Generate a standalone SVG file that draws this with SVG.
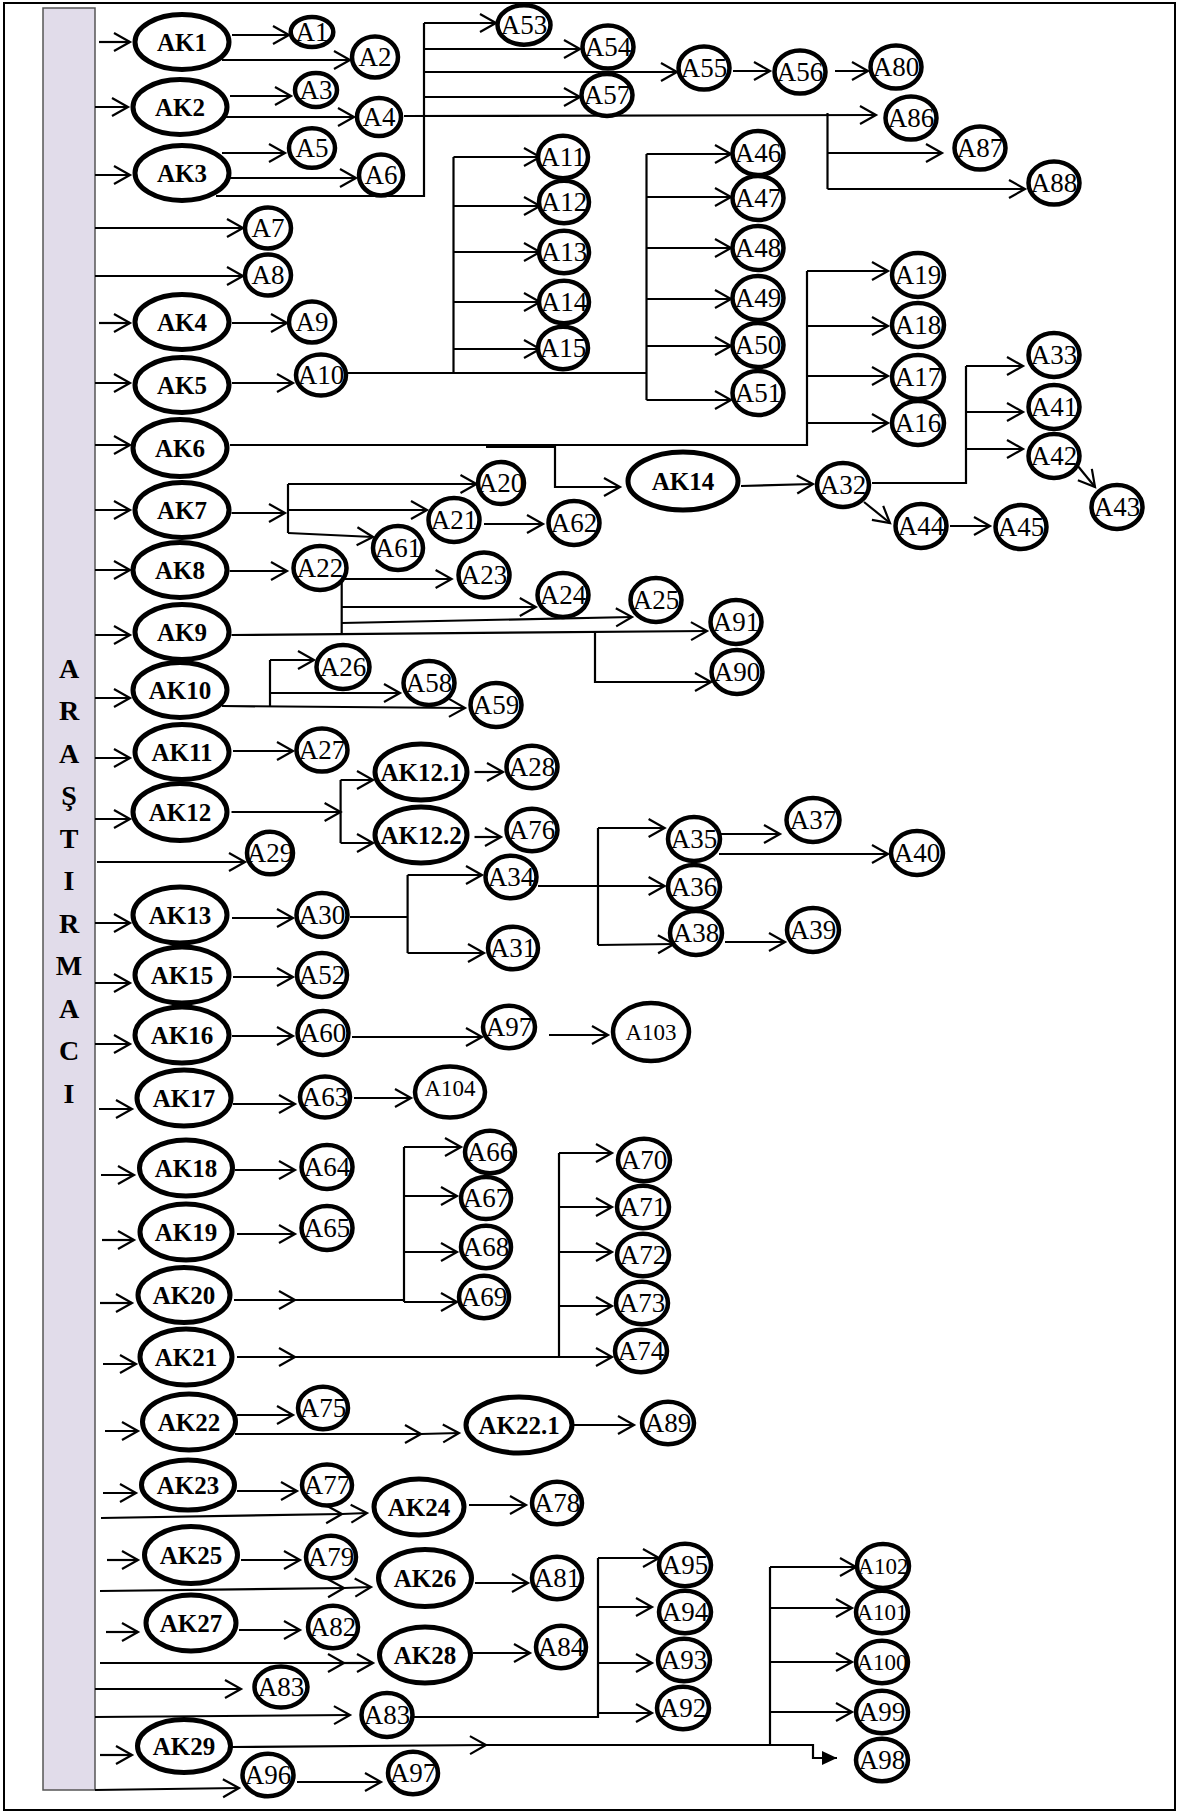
<svg xmlns="http://www.w3.org/2000/svg" width="1188" height="1820" viewBox="0 0 1188 1820">
<style>
.c{fill:none;stroke:#000;stroke-width:2.2}
.n{fill:#fff;stroke:#000;stroke-width:4.5}
.nk{fill:#fff;stroke:#000;stroke-width:5}
.t{font-family:"Liberation Serif","Times New Roman",serif;font-size:27px;text-anchor:middle}
.s{font-size:23px}
.k{font-family:"Liberation Serif","Times New Roman",serif;font-size:25px;font-weight:bold;text-anchor:middle}
.bl{font-family:"Liberation Serif","Times New Roman",serif;font-size:28px;font-weight:bold;text-anchor:middle}
</style>
<defs>
<marker id="ar" markerUnits="userSpaceOnUse" markerWidth="20" markerHeight="20" viewBox="0 0 20 20" refX="17" refY="9" orient="auto" overflow="visible"><path d="M1,0 L17,9 L1,18" fill="none" stroke="#000" stroke-width="2.2"/></marker>
<marker id="af" markerUnits="userSpaceOnUse" markerWidth="16" markerHeight="16" viewBox="0 0 16 16" refX="15" refY="8" orient="auto" overflow="visible"><path d="M0,1 L15,8 L0,15 Z" fill="#000"/></marker>
</defs>
<rect x="4" y="3" width="1171" height="1807" fill="#fff" stroke="#000" stroke-width="2"/>
<g id="ARASTIRMACI">
<rect x="43" y="8" width="52" height="1782" fill="#e1dcea" stroke="#555" stroke-width="1.5"/>
<text class="bl" x="69" y="677.5">A</text>
<text class="bl" x="69" y="719.5">R</text>
<text class="bl" x="69" y="762.5">A</text>
<text class="bl" x="69" y="804.5">Ş</text>
<text class="bl" x="69" y="847.5">T</text>
<text class="bl" x="69" y="889.5">I</text>
<text class="bl" x="69" y="932.5">R</text>
<text class="bl" x="69" y="974.5">M</text>
<text class="bl" x="69" y="1017.5">A</text>
<text class="bl" x="69" y="1059.5">C</text>
<text class="bl" x="69" y="1102.5">I</text>
</g>
<g id="connectors">
<g class="c" marker-end="url(#ar)">
<path d="M99,42H130"/>
<path d="M95,107H128"/>
<path d="M95,175H130"/>
<path d="M95,228H243"/>
<path d="M95,276H243"/>
<path d="M99,323H130"/>
<path d="M95,383H130"/>
<path d="M95,445H130"/>
<path d="M95,510H130"/>
<path d="M95,570H130"/>
<path d="M95,635H130"/>
<path d="M95,698H130"/>
<path d="M95,758H130"/>
<path d="M95,819H130"/>
<path d="M97,862H245"/>
<path d="M95,923H130"/>
<path d="M95,983H130"/>
<path d="M95,1044H130"/>
<path d="M99,1109H132"/>
<path d="M101,1175H134"/>
<path d="M102,1240H134"/>
<path d="M100,1303H132"/>
<path d="M103,1364H136"/>
<path d="M105,1431H138"/>
<path d="M103,1493H136"/>
<path d="M101,1518L342,1514"/>
<path d="M342,1514L367,1513"/>
<path d="M107,1560H138"/>
<path d="M100,1591L344,1588"/>
<path d="M344,1588L371,1587"/>
<path d="M106,1632H138"/>
<path d="M100,1663H344"/>
<path d="M344,1663H373"/>
<path d="M95,1689H241"/>
<path d="M95,1717L350,1715"/>
<path d="M100,1755H132"/>
<path d="M95,1790L239,1788"/>
<path d="M232,35H289"/>
<path d="M222,60H350"/>
<path d="M230,96H291"/>
<path d="M226,117H354"/>
<path d="M222,153H285"/>
<path d="M230,178H356"/>
<path d="M424,23H496"/>
<path d="M424,49H580"/>
<path d="M424,72H677"/>
<path d="M424,97H580"/>
<path d="M733,71H770"/>
<path d="M835,71H868"/>
<path d="M404,116L876,115"/>
<path d="M827.5,153H942"/>
<path d="M827.5,189H1025"/>
<path d="M232,323H287"/>
<path d="M232,383H293"/>
<path d="M453.5,157H540"/>
<path d="M453.5,206H540"/>
<path d="M453.5,252H540"/>
<path d="M453.5,302H540"/>
<path d="M453.5,349H540"/>
<path d="M646.5,154H731"/>
<path d="M646.5,197H731"/>
<path d="M646.5,248H731"/>
<path d="M646.5,299H731"/>
<path d="M646.5,346H731"/>
<path d="M646.5,400H731"/>
<path d="M807,271H888"/>
<path d="M807,326H888"/>
<path d="M807,376H888"/>
<path d="M807,423H888"/>
<path d="M486,447H555V487H620"/>
<path d="M741,486L813,484"/>
<path d="M966,366H1023"/>
<path d="M966,412H1023"/>
<path d="M966,449H1023"/>
<path d="M1077,465L1095,487"/>
<path d="M864,502L890,523"/>
<path d="M950,526H990"/>
<path d="M231.5,513H285"/>
<path d="M288,484H476.5"/>
<path d="M288,510H427"/>
<path d="M288,533L373,537"/>
<path d="M484,524H543"/>
<path d="M229.6,571H287"/>
<path d="M344,579H451.6"/>
<path d="M341.7,607H535.8"/>
<path d="M341.7,623L632,617"/>
<path d="M231.5,635L707,631"/>
<path d="M595,632V682H711"/>
<path d="M222,706L465,708"/>
<path d="M270,660H314"/>
<path d="M270,693H400"/>
<path d="M233,751H293"/>
<path d="M231.5,812H340.6"/>
<path d="M340.6,780H373"/>
<path d="M340.6,843H373"/>
<path d="M474.5,772H503"/>
<path d="M474.5,837H501"/>
<path d="M232,918H293"/>
<path d="M407.6,875H482"/>
<path d="M407.6,953H484"/>
<path d="M538,886H664.6"/>
<path d="M598,828H664.6"/>
<path d="M598,945L674,944"/>
<path d="M721,834H780"/>
<path d="M719,854H888"/>
<path d="M725,942H785"/>
<path d="M233,977H293"/>
<path d="M232,1036H293"/>
<path d="M352,1037H482"/>
<path d="M549,1035H608"/>
<path d="M233,1104H295"/>
<path d="M354,1098H411"/>
<path d="M235,1170H295"/>
<path d="M237,1234H295"/>
<path d="M234,1300H295"/>
<path d="M404,1147H461"/>
<path d="M404,1196H457"/>
<path d="M404,1252H457"/>
<path d="M404,1302H457"/>
<path d="M237,1357H295"/>
<path d="M559,1153H612"/>
<path d="M559,1207H612"/>
<path d="M559,1252H612"/>
<path d="M559,1306H612"/>
<path d="M559,1357H612"/>
<path d="M237,1415H293"/>
<path d="M235,1434H421"/>
<path d="M421,1434L459,1433"/>
<path d="M574,1425H634"/>
<path d="M237,1491H297"/>
<path d="M469,1505H526"/>
<path d="M241,1560H300"/>
<path d="M475,1583H528"/>
<path d="M239,1630H300"/>
<path d="M473,1653H530"/>
<path d="M598,1558H659"/>
<path d="M598,1607H652"/>
<path d="M598,1663H652"/>
<path d="M598,1713H652"/>
<path d="M231.5,1747L486,1745"/>
<path d="M770,1567H856"/>
<path d="M770,1608H852"/>
<path d="M770,1662H852"/>
<path d="M770,1712H852"/>
<path d="M297,1782H381"/>
</g>
<g class="c">
<path d="M216,196H424V23"/>
<path d="M827.5,113V189"/>
<path d="M347,373H646.5"/>
<path d="M453.5,157V373"/>
<path d="M646.5,154V400"/>
<path d="M230,445H807V271"/>
<path d="M872,483H966V366"/>
<path d="M288,484V533"/>
<path d="M341.7,579V635"/>
<path d="M270,660V706"/>
<path d="M340.6,780V843"/>
<path d="M350,917H407.6"/>
<path d="M407.6,875V953"/>
<path d="M598,828V945"/>
<path d="M295,1300H404"/>
<path d="M404,1147V1302"/>
<path d="M295,1357H559"/>
<path d="M559,1153V1357"/>
<path d="M414,1717H598V1558"/>
<path d="M770,1567V1745"/>
</g>
<path class="c" d="M486,1745H813V1758H837" marker-end="url(#af)"/>
</g>
<g id="AK1"><ellipse class="nk" cx="182" cy="42" rx="47" ry="27.5"/><text class="k" x="182" y="50.5">AK1</text></g>
<g id="AK2"><ellipse class="nk" cx="180" cy="107" rx="47" ry="27.5"/><text class="k" x="180" y="115.5">AK2</text></g>
<g id="AK3"><ellipse class="nk" cx="182" cy="173" rx="47" ry="27.5"/><text class="k" x="182" y="181.5">AK3</text></g>
<g id="AK4"><ellipse class="nk" cx="182" cy="322" rx="47" ry="27.5"/><text class="k" x="182" y="330.5">AK4</text></g>
<g id="AK5"><ellipse class="nk" cx="182" cy="385" rx="47" ry="27.5"/><text class="k" x="182" y="393.5">AK5</text></g>
<g id="AK6"><ellipse class="nk" cx="180" cy="448" rx="47" ry="28.5"/><text class="k" x="180" y="456.5">AK6</text></g>
<g id="AK7"><ellipse class="nk" cx="182" cy="510" rx="47" ry="27.5"/><text class="k" x="182" y="518.5">AK7</text></g>
<g id="AK8"><ellipse class="nk" cx="180" cy="570" rx="47" ry="27.5"/><text class="k" x="180" y="578.5">AK8</text></g>
<g id="AK9"><ellipse class="nk" cx="182" cy="632" rx="47" ry="27.5"/><text class="k" x="182" y="640.5">AK9</text></g>
<g id="AK10"><ellipse class="nk" cx="180" cy="690" rx="47" ry="27.5"/><text class="k" x="180" y="698.5">AK10</text></g>
<g id="AK11"><ellipse class="nk" cx="182" cy="752" rx="47" ry="27.5"/><text class="k" x="182" y="760.5">AK11</text></g>
<g id="AK12"><ellipse class="nk" cx="180" cy="812" rx="47" ry="28.5"/><text class="k" x="180" y="820.5">AK12</text></g>
<g id="AK13"><ellipse class="nk" cx="180" cy="915" rx="47" ry="28"/><text class="k" x="180" y="923.5">AK13</text></g>
<g id="AK15"><ellipse class="nk" cx="182" cy="975" rx="47" ry="28"/><text class="k" x="182" y="983.5">AK15</text></g>
<g id="AK16"><ellipse class="nk" cx="182" cy="1035" rx="47" ry="28"/><text class="k" x="182" y="1043.5">AK16</text></g>
<g id="AK17"><ellipse class="nk" cx="184" cy="1098" rx="47" ry="28"/><text class="k" x="184" y="1106.5">AK17</text></g>
<g id="AK18"><ellipse class="nk" cx="186" cy="1168" rx="46.5" ry="28"/><text class="k" x="186" y="1176.5">AK18</text></g>
<g id="AK19"><ellipse class="nk" cx="186" cy="1232" rx="46" ry="28"/><text class="k" x="186" y="1240.5">AK19</text></g>
<g id="AK20"><ellipse class="nk" cx="184" cy="1295" rx="46" ry="27.5"/><text class="k" x="184" y="1303.5">AK20</text></g>
<g id="AK21"><ellipse class="nk" cx="186" cy="1357" rx="46" ry="28"/><text class="k" x="186" y="1365.5">AK21</text></g>
<g id="AK22"><ellipse class="nk" cx="189" cy="1422" rx="46.5" ry="28"/><text class="k" x="189" y="1430.5">AK22</text></g>
<g id="AK23"><ellipse class="nk" cx="188" cy="1485" rx="46.5" ry="25"/><text class="k" x="188" y="1493.5">AK23</text></g>
<g id="AK25"><ellipse class="nk" cx="191" cy="1555" rx="46.5" ry="28.5"/><text class="k" x="191" y="1563.5">AK25</text></g>
<g id="AK27"><ellipse class="nk" cx="191" cy="1623" rx="45" ry="28"/><text class="k" x="191" y="1631.5">AK27</text></g>
<g id="AK29"><ellipse class="nk" cx="184" cy="1746" rx="46.5" ry="26.5"/><text class="k" x="184" y="1754.5">AK29</text></g>
<g id="AK24"><ellipse class="nk" cx="419" cy="1507" rx="45" ry="28"/><text class="k" x="419" y="1515.5">AK24</text></g>
<g id="AK26"><ellipse class="nk" cx="425" cy="1578" rx="46.5" ry="28.5"/><text class="k" x="425" y="1586.5">AK26</text></g>
<g id="AK28"><ellipse class="nk" cx="425" cy="1655" rx="45.5" ry="28"/><text class="k" x="425" y="1663.5">AK28</text></g>
<g id="AK12.1"><ellipse class="nk" cx="421" cy="772" rx="46" ry="28"/><text class="k" x="421" y="780.5">AK12.1</text></g>
<g id="AK12.2"><ellipse class="nk" cx="421" cy="835" rx="46" ry="28"/><text class="k" x="421" y="843.5">AK12.2</text></g>
<g id="AK14"><ellipse class="nk" cx="683" cy="481" rx="55" ry="29"/><text class="k" x="683" y="489.5">AK14</text></g>
<g id="AK22.1"><ellipse class="nk" cx="519" cy="1425" rx="53" ry="28"/><text class="k" x="519" y="1433.5">AK22.1</text></g>
<g id="A1"><ellipse class="n" cx="312" cy="32" rx="21.3" ry="15"/><text class="t" x="312" y="41">A1</text></g>
<g id="A2"><ellipse class="n" cx="375" cy="57" rx="23" ry="20.5"/><text class="t" x="375" y="66">A2</text></g>
<g id="A3"><ellipse class="n" cx="316" cy="90" rx="21" ry="17"/><text class="t" x="316" y="99">A3</text></g>
<g id="A4"><ellipse class="n" cx="379" cy="117" rx="22" ry="19"/><text class="t" x="379" y="126">A4</text></g>
<g id="A5"><ellipse class="n" cx="312" cy="148" rx="23" ry="19.7"/><text class="t" x="312" y="157">A5</text></g>
<g id="A6"><ellipse class="n" cx="381" cy="175" rx="22" ry="20.5"/><text class="t" x="381" y="184">A6</text></g>
<g id="A7"><ellipse class="n" cx="268" cy="228" rx="23" ry="20.5"/><text class="t" x="268" y="237">A7</text></g>
<g id="A8"><ellipse class="n" cx="268" cy="275" rx="23" ry="20.5"/><text class="t" x="268" y="284">A8</text></g>
<g id="A9"><ellipse class="n" cx="312" cy="322" rx="23" ry="20.5"/><text class="t" x="312" y="331">A9</text></g>
<g id="A10"><ellipse class="n" cx="321" cy="375" rx="25" ry="20.5"/><text class="t" x="321" y="384">A10</text></g>
<g id="A53"><ellipse class="n" cx="524" cy="25" rx="26.5" ry="19.7"/><text class="t" x="524" y="34">A53</text></g>
<g id="A54"><ellipse class="n" cx="608" cy="47" rx="25.5" ry="21.5"/><text class="t" x="608" y="56">A54</text></g>
<g id="A55"><ellipse class="n" cx="704" cy="68" rx="25.5" ry="21.5"/><text class="t" x="704" y="77">A55</text></g>
<g id="A56"><ellipse class="n" cx="800" cy="72" rx="25.5" ry="21.5"/><text class="t" x="800" y="81">A56</text></g>
<g id="A80"><ellipse class="n" cx="896" cy="67" rx="25.5" ry="21.5"/><text class="t" x="896" y="76">A80</text></g>
<g id="A57"><ellipse class="n" cx="607" cy="95" rx="25.5" ry="21"/><text class="t" x="607" y="104">A57</text></g>
<g id="A86"><ellipse class="n" cx="911" cy="118" rx="25.5" ry="21.5"/><text class="t" x="911" y="127">A86</text></g>
<g id="A87"><ellipse class="n" cx="980" cy="148" rx="25.5" ry="21.5"/><text class="t" x="980" y="157">A87</text></g>
<g id="A88"><ellipse class="n" cx="1054" cy="183" rx="25.5" ry="21.5"/><text class="t" x="1054" y="192">A88</text></g>
<g id="A11"><ellipse class="n" cx="563" cy="157" rx="25" ry="21.3"/><text class="t" x="563" y="166">A11</text></g>
<g id="A12"><ellipse class="n" cx="564" cy="202" rx="25" ry="21.3"/><text class="t" x="564" y="211">A12</text></g>
<g id="A13"><ellipse class="n" cx="564" cy="252" rx="25" ry="21.3"/><text class="t" x="564" y="261">A13</text></g>
<g id="A14"><ellipse class="n" cx="564" cy="302" rx="25" ry="21.3"/><text class="t" x="564" y="311">A14</text></g>
<g id="A15"><ellipse class="n" cx="563" cy="348" rx="25" ry="21.3"/><text class="t" x="563" y="357">A15</text></g>
<g id="A46"><ellipse class="n" cx="758" cy="153" rx="25.5" ry="22"/><text class="t" x="758" y="162">A46</text></g>
<g id="A47"><ellipse class="n" cx="758" cy="198" rx="25.5" ry="22"/><text class="t" x="758" y="207">A47</text></g>
<g id="A48"><ellipse class="n" cx="758" cy="248" rx="25.5" ry="22"/><text class="t" x="758" y="257">A48</text></g>
<g id="A49"><ellipse class="n" cx="758" cy="298" rx="25.5" ry="22"/><text class="t" x="758" y="307">A49</text></g>
<g id="A50"><ellipse class="n" cx="758" cy="345" rx="25.5" ry="22"/><text class="t" x="758" y="354">A50</text></g>
<g id="A51"><ellipse class="n" cx="758" cy="393" rx="25.5" ry="22"/><text class="t" x="758" y="402">A51</text></g>
<g id="A19"><ellipse class="n" cx="918" cy="275" rx="26" ry="22"/><text class="t" x="918" y="284">A19</text></g>
<g id="A18"><ellipse class="n" cx="918" cy="325" rx="26" ry="22"/><text class="t" x="918" y="334">A18</text></g>
<g id="A17"><ellipse class="n" cx="918" cy="377" rx="26" ry="22"/><text class="t" x="918" y="386">A17</text></g>
<g id="A16"><ellipse class="n" cx="918" cy="423" rx="26" ry="22"/><text class="t" x="918" y="432">A16</text></g>
<g id="A33"><ellipse class="n" cx="1054" cy="355" rx="25.5" ry="22"/><text class="t" x="1054" y="364">A33</text></g>
<g id="A41"><ellipse class="n" cx="1054" cy="407" rx="25.5" ry="22"/><text class="t" x="1054" y="416">A41</text></g>
<g id="A42"><ellipse class="n" cx="1054" cy="456" rx="25.5" ry="22"/><text class="t" x="1054" y="465">A42</text></g>
<g id="A43"><ellipse class="n" cx="1117" cy="507" rx="25.5" ry="22"/><text class="t" x="1117" y="516">A43</text></g>
<g id="A32"><ellipse class="n" cx="843" cy="485" rx="26" ry="22"/><text class="t" x="843" y="494">A32</text></g>
<g id="A44"><ellipse class="n" cx="921" cy="526" rx="25.5" ry="22"/><text class="t" x="921" y="535">A44</text></g>
<g id="A45"><ellipse class="n" cx="1021" cy="527" rx="25.5" ry="22"/><text class="t" x="1021" y="536">A45</text></g>
<g id="A20"><ellipse class="n" cx="501" cy="483" rx="23" ry="21"/><text class="t" x="501" y="492">A20</text></g>
<g id="A21"><ellipse class="n" cx="454" cy="520" rx="25.5" ry="22"/><text class="t" x="454" y="529">A21</text></g>
<g id="A61"><ellipse class="n" cx="398" cy="548" rx="25" ry="22"/><text class="t" x="398" y="557">A61</text></g>
<g id="A62"><ellipse class="n" cx="574" cy="523" rx="25.5" ry="22"/><text class="t" x="574" y="532">A62</text></g>
<g id="A22"><ellipse class="n" cx="320" cy="568" rx="26.5" ry="22"/><text class="t" x="320" y="577">A22</text></g>
<g id="A23"><ellipse class="n" cx="484" cy="575" rx="25.5" ry="22.5"/><text class="t" x="484" y="584">A23</text></g>
<g id="A24"><ellipse class="n" cx="563" cy="595" rx="25.5" ry="22"/><text class="t" x="563" y="604">A24</text></g>
<g id="A25"><ellipse class="n" cx="656" cy="600" rx="25.5" ry="22"/><text class="t" x="656" y="609">A25</text></g>
<g id="A91"><ellipse class="n" cx="736" cy="622" rx="25.5" ry="22"/><text class="t" x="736" y="631">A91</text></g>
<g id="A90"><ellipse class="n" cx="737" cy="672" rx="25.5" ry="22"/><text class="t" x="737" y="681">A90</text></g>
<g id="A26"><ellipse class="n" cx="343" cy="667" rx="26.5" ry="22"/><text class="t" x="343" y="676">A26</text></g>
<g id="A58"><ellipse class="n" cx="429" cy="683" rx="25.5" ry="22"/><text class="t" x="429" y="692">A58</text></g>
<g id="A59"><ellipse class="n" cx="496" cy="705" rx="25.5" ry="22"/><text class="t" x="496" y="714">A59</text></g>
<g id="A27"><ellipse class="n" cx="322" cy="750" rx="25.5" ry="21.5"/><text class="t" x="322" y="759">A27</text></g>
<g id="A28"><ellipse class="n" cx="532" cy="767" rx="25.5" ry="21.3"/><text class="t" x="532" y="776">A28</text></g>
<g id="A76"><ellipse class="n" cx="532" cy="830" rx="25.5" ry="21.3"/><text class="t" x="532" y="839">A76</text></g>
<g id="A29"><ellipse class="n" cx="270" cy="853" rx="23" ry="21.3"/><text class="t" x="270" y="862">A29</text></g>
<g id="A34"><ellipse class="n" cx="511" cy="877" rx="25.5" ry="21.3"/><text class="t" x="511" y="886">A34</text></g>
<g id="A30"><ellipse class="n" cx="322" cy="915" rx="25.5" ry="22"/><text class="t" x="322" y="924">A30</text></g>
<g id="A31"><ellipse class="n" cx="513" cy="948" rx="25" ry="21.3"/><text class="t" x="513" y="957">A31</text></g>
<g id="A35"><ellipse class="n" cx="694" cy="839" rx="26" ry="22"/><text class="t" x="694" y="848">A35</text></g>
<g id="A36"><ellipse class="n" cx="694" cy="887" rx="26" ry="22"/><text class="t" x="694" y="896">A36</text></g>
<g id="A38"><ellipse class="n" cx="696" cy="933" rx="26" ry="22"/><text class="t" x="696" y="942">A38</text></g>
<g id="A37"><ellipse class="n" cx="813" cy="820" rx="26.5" ry="22"/><text class="t" x="813" y="829">A37</text></g>
<g id="A39"><ellipse class="n" cx="813" cy="930" rx="26" ry="22"/><text class="t" x="813" y="939">A39</text></g>
<g id="A40"><ellipse class="n" cx="917" cy="853" rx="26" ry="22"/><text class="t" x="917" y="862">A40</text></g>
<g id="A52"><ellipse class="n" cx="322" cy="975" rx="25" ry="22"/><text class="t" x="322" y="984">A52</text></g>
<g id="A60"><ellipse class="n" cx="323" cy="1033" rx="25.5" ry="22"/><text class="t" x="323" y="1042">A60</text></g>
<g id="A97-1"><ellipse class="n" cx="509" cy="1027" rx="26" ry="21.3"/><text class="t" x="509" y="1036">A97</text></g>
<g id="A103"><ellipse class="n" cx="651" cy="1032" rx="38" ry="29"/><text class="t s" x="651" y="1040">A103</text></g>
<g id="A63"><ellipse class="n" cx="325" cy="1097" rx="25" ry="20.5"/><text class="t" x="325" y="1106">A63</text></g>
<g id="A104"><ellipse class="n" cx="450" cy="1092" rx="35" ry="25.5"/><text class="t s" x="450" y="1096">A104</text></g>
<g id="A64"><ellipse class="n" cx="327" cy="1167" rx="25.5" ry="22"/><text class="t" x="327" y="1176">A64</text></g>
<g id="A65"><ellipse class="n" cx="327" cy="1228" rx="25.5" ry="22"/><text class="t" x="327" y="1237">A65</text></g>
<g id="A66"><ellipse class="n" cx="490" cy="1152" rx="25" ry="21.3"/><text class="t" x="490" y="1161">A66</text></g>
<g id="A67"><ellipse class="n" cx="486" cy="1198" rx="25" ry="21"/><text class="t" x="486" y="1207">A67</text></g>
<g id="A68"><ellipse class="n" cx="486" cy="1247" rx="25" ry="21.3"/><text class="t" x="486" y="1256">A68</text></g>
<g id="A69"><ellipse class="n" cx="484" cy="1297" rx="25" ry="21.3"/><text class="t" x="484" y="1306">A69</text></g>
<g id="A70"><ellipse class="n" cx="644" cy="1160" rx="26" ry="21.3"/><text class="t" x="644" y="1169">A70</text></g>
<g id="A71"><ellipse class="n" cx="643" cy="1207" rx="26" ry="21.3"/><text class="t" x="643" y="1216">A71</text></g>
<g id="A72"><ellipse class="n" cx="643" cy="1255" rx="26" ry="21.3"/><text class="t" x="643" y="1264">A72</text></g>
<g id="A73"><ellipse class="n" cx="642" cy="1303" rx="26" ry="21.3"/><text class="t" x="642" y="1312">A73</text></g>
<g id="A74"><ellipse class="n" cx="641" cy="1351" rx="26" ry="21.3"/><text class="t" x="641" y="1360">A74</text></g>
<g id="A75"><ellipse class="n" cx="323" cy="1408" rx="25" ry="21.3"/><text class="t" x="323" y="1417">A75</text></g>
<g id="A89"><ellipse class="n" cx="668" cy="1423" rx="26" ry="21.3"/><text class="t" x="668" y="1432">A89</text></g>
<g id="A77"><ellipse class="n" cx="327" cy="1485" rx="25" ry="20.5"/><text class="t" x="327" y="1494">A77</text></g>
<g id="A78"><ellipse class="n" cx="557" cy="1503" rx="25" ry="21.3"/><text class="t" x="557" y="1512">A78</text></g>
<g id="A79"><ellipse class="n" cx="331" cy="1557" rx="25" ry="21.3"/><text class="t" x="331" y="1566">A79</text></g>
<g id="A81"><ellipse class="n" cx="557" cy="1578" rx="25" ry="21.3"/><text class="t" x="557" y="1587">A81</text></g>
<g id="A82"><ellipse class="n" cx="333" cy="1627" rx="25" ry="21.3"/><text class="t" x="333" y="1636">A82</text></g>
<g id="A84"><ellipse class="n" cx="561" cy="1647" rx="25" ry="21.3"/><text class="t" x="561" y="1656">A84</text></g>
<g id="A83-1"><ellipse class="n" cx="281" cy="1687" rx="26.5" ry="20.5"/><text class="t" x="281" y="1696">A83</text></g>
<g id="A83-2"><ellipse class="n" cx="387" cy="1715" rx="25.5" ry="22"/><text class="t" x="387" y="1724">A83</text></g>
<g id="A96"><ellipse class="n" cx="268" cy="1775" rx="25.5" ry="21.3"/><text class="t" x="268" y="1784">A96</text></g>
<g id="A97-2"><ellipse class="n" cx="413" cy="1773" rx="25" ry="21.3"/><text class="t" x="413" y="1782">A97</text></g>
<g id="A95"><ellipse class="n" cx="685" cy="1565" rx="26" ry="21.3"/><text class="t" x="685" y="1574">A95</text></g>
<g id="A94"><ellipse class="n" cx="685" cy="1612" rx="26" ry="21.3"/><text class="t" x="685" y="1621">A94</text></g>
<g id="A93"><ellipse class="n" cx="684" cy="1660" rx="26" ry="21.3"/><text class="t" x="684" y="1669">A93</text></g>
<g id="A92"><ellipse class="n" cx="683" cy="1708" rx="26" ry="21.3"/><text class="t" x="683" y="1717">A92</text></g>
<g id="A102"><ellipse class="n" cx="883" cy="1566" rx="26" ry="22"/><text class="t s" x="883" y="1574">A102</text></g>
<g id="A101"><ellipse class="n" cx="882" cy="1612" rx="26" ry="21.3"/><text class="t s" x="882" y="1620">A101</text></g>
<g id="A100"><ellipse class="n" cx="882" cy="1662" rx="26" ry="21.3"/><text class="t s" x="882" y="1670">A100</text></g>
<g id="A99"><ellipse class="n" cx="882" cy="1712" rx="26" ry="21.3"/><text class="t" x="882" y="1721">A99</text></g>
<g id="A98"><ellipse class="n" cx="882" cy="1760" rx="26" ry="21.3"/><text class="t" x="882" y="1769">A98</text></g>
</svg>
